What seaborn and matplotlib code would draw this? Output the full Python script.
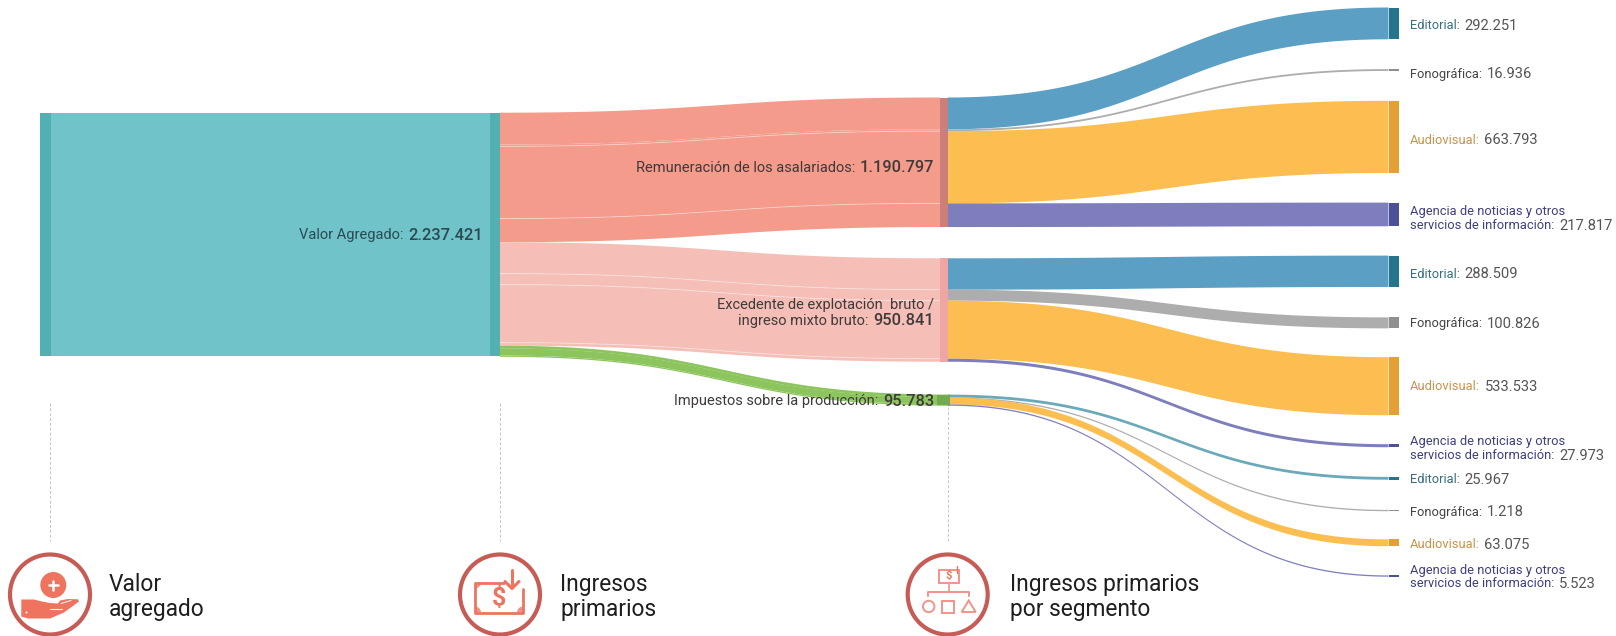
"""Sankey: valor agregado -> ingresos primarios -> ingresos primarios por segmento."""
import numpy as np
import matplotlib.pyplot as plt
import matplotlib.patches as mpatches
import seaborn as sns

# ── datos ─────────────────────────────────────────────────────────────────────
valor_agregado = 2237421
segmentos = ["Editorial", "Fonográfica", "Audiovisual", "Agencia"]
remuneracion = [292251, 16936, 663793, 217817]
excedente = [288509, 100826, 533533, 27973]
impuestos = [25967, 1218, 63075, 5523]

# ── layout (px) ───────────────────────────────────────────────────────────────
SCALE = 243.4 / valor_agregado      # px por unidad
TOP0 = 112.7
X_NODE0 = (40, 50.5)
X_NODE1 = (489.5, 500)
X_NODE2 = (940, 947.7)
X_NODE3 = (1388.5, 1399)
TOP_PRIM = [97.5, 258.3, 394.6]
TOP_SEG = [[7.5, 69.1, 100.8, 202.6],
           [255.6, 317.4, 357.2, 444.2],
           [476.9, 509.9, 539.4, 575.4]]
LABEL_X = 1410
LABEL_Y = [[24, 72.7, 139, (210, 224)],
           [272.7, 322.5, 385.5, (440, 454)],
           [478.3, 510.7, 543.3, (569, 582.3)]]

# ── colores ───────────────────────────────────────────────────────────────────
TEAL, TEAL_D = "#70C4C9", "#52B0B2"
PRIM_RIB = ["#F49B8C", "#F5BFB8", "#8CC55E"]
PRIM_NODE = ["#CC7E78", "#F0A5A5", "#72AB4F"]
SEG_RIB = ["#5B9FC5", "#ADADAD", "#FCBE50", "#7E7EBD"]
SEG_RIB_THIN = ["#6AA9B8", "#ADADAD", "#FCBE50", "#7E7EBD"]   # flujos de impuestos
SEG_NODE = ["#27758D", "#8F8F8F", "#E5A035", "#4C5096"]
SEG_TXT = ["#3A6D80", "#444444", "#C8924A", "#3E3F80"]
VAL_TXT = "#555555"
RING = "#C75B55"
ICON = "#EE7460"
ICON_L = "#F0948A"

sns.set_theme(style="white")
plt.rcParams["font.family"] = ["Roboto", "DejaVu Sans"]

fig, ax = plt.subplots(figsize=(16.16, 6.36), dpi=100)
fig.subplots_adjust(0, 0, 1, 1)
ax.set_xlim(0, 1616)
ax.set_ylim(636, 0)
ax.axis("off")
renderer = fig.canvas.get_renderer()


def fmt(v):
    return f"{v:,}".replace(",", ".")


def curve(x0, x1, y0, y1):
    u = np.linspace(0, 1, 120)
    xm = (x0 + x1) / 2
    x = (1-u)**3*x0 + 3*(1-u)**2*u*xm + 3*(1-u)*u**2*xm + u**3*x1
    y = (1-u)**3*y0 + 3*(1-u)**2*u*y0 + 3*(1-u)*u**2*y1 + u**3*y1
    return x, y


def ribbon(x0, x1, y0, y1, h, color, min_h=1.3):
    h = max(h, min_h)
    x, y = curve(x0, x1, y0, y1)
    ax.fill(np.r_[x, x[::-1]], np.r_[y, (y + h)[::-1]], color=color, lw=0)


def node(x, top, h, color):
    ax.bar(x[0], h, width=x[1]-x[0], bottom=top, align="edge", color=color, lw=0)


def rich(x, y, parts, align="left", gap=4.5):
    """texto en varios colores/tamaños sobre una sola línea"""
    ts = [ax.text(0, y, s, color=c, fontsize=size, va="center_baseline", ha="left",
                  fontweight=w) for s, c, w, size in parts]
    ws = [t.get_window_extent(renderer).width for t in ts]
    total = sum(ws) + gap * (len(ts) - 1)
    cur = x - total if align == "right" else x
    for t, w in zip(ts, ws):
        t.set_x(cur)
        cur += w + gap


# ── flujo principal ───────────────────────────────────────────────────────────
h0 = valor_agregado * SCALE
ax.bar(X_NODE0[1], h0, width=X_NODE1[0]-X_NODE0[1], bottom=TOP0, align="edge", color=TEAL, lw=0)
node(X_NODE0, TOP0, h0, TEAL_D)
node(X_NODE1, TOP0, h0, TEAL_D)

# ── ribbons por grupo ─────────────────────────────────────────────────────────
src = TOP0
for g, vals in enumerate([remuneracion, excedente, impuestos]):
    y_src, y_prim = src, TOP_PRIM[g]
    for s, v in enumerate(vals):
        h = v * SCALE
        # primer tramo: mismo color para todo el grupo
        ribbon(X_NODE1[1], X_NODE2[0] + (10 if g == 2 else 0), y_src, y_prim, h, PRIM_RIB[g])
        # hairlines entre sub-flujos (no junto a un flujo muy fino)
        if g < 2 and s < 3 and vals[s + 1] * SCALE > 3:
            hx, hy = curve(X_NODE1[1], X_NODE2[0], y_src + h, y_prim + h)
            sns.lineplot(x=hx, y=hy, ax=ax, color="white", lw=0.7, alpha=0.35,
                         estimator=None, sort=False, legend=False)
        # segundo tramo
        ribbon(X_NODE2[1], X_NODE3[0], y_prim, TOP_SEG[g][s], h,
               SEG_RIB_THIN[s] if g == 2 else SEG_RIB[s])
        node(X_NODE3, TOP_SEG[g][s], max(h, 1.3), SEG_NODE[s])
        y_src += h
        y_prim += h
    h_prim = sum(vals) * SCALE
    if g == 2:
        node((937, 950), TOP_PRIM[g], h_prim, PRIM_NODE[g])
    else:
        node(X_NODE2, TOP_PRIM[g], h_prim, PRIM_NODE[g])
    src += h_prim

# ── guías punteadas ───────────────────────────────────────────────────────────
for gx, y0 in zip([49.5, 500, 947.7], [403, 403, 407]):
    sns.lineplot(x=[gx, gx], y=[y0, 541], ax=ax, color="#C4C4C4", lw=0.7,
                 linestyle=(0, (3, 2)), estimator=None, sort=False, legend=False)

# ── etiquetas ─────────────────────────────────────────────────────────────────
DK, DK2 = "#2A4A50", "#3F3A3A"
SZ_L, SZ_V = 10.5, 11.8
rich(483, 234, [("Valor Agregado:", DK, "normal", SZ_L), (fmt(valor_agregado), DK, "medium", SZ_V)], "right")
rich(934, 166, [("Remuneración de los asalariados:", DK2, "normal", SZ_L),
                (fmt(sum(remuneracion)), DK2, "medium", SZ_V)], "right")
rich(934, 303, [("Excedente de explotación  bruto /", DK2, "normal", SZ_L)], "right")
rich(934, 319, [("ingreso mixto bruto:", DK2, "normal", SZ_L), (fmt(sum(excedente)), DK2, "medium", SZ_V)], "right")
rich(934, 400, [("Impuestos sobre la producción:", DK2, "normal", SZ_L),
                (fmt(sum(impuestos)), DK2, "medium", SZ_V)], "right")

SZ_SEG, SZ_SEGV = 9.3, 10.6
for g, vals in enumerate([remuneracion, excedente, impuestos]):
    for s, v in enumerate(vals):
        c = SEG_TXT[s]
        if s == 3:
            y1, y2 = LABEL_Y[g][s]
            rich(LABEL_X, y1, [("Agencia de noticias y otros", c, "normal", SZ_SEG)])
            rich(LABEL_X, y2, [("servicios de información:", c, "normal", SZ_SEG),
                               (fmt(v), VAL_TXT, "normal", SZ_SEGV)])
        else:
            rich(LABEL_X, LABEL_Y[g][s], [(segmentos[s] + ":", c, "normal", SZ_SEG),
                                          (fmt(v), VAL_TXT, "normal", SZ_SEGV)])

# ── encabezados inferiores con iconos ─────────────────────────────────────────
titulos = [("Valor", "agregado"), ("Ingresos", "primarios"), ("Ingresos primarios", "por segmento")]
cx_ring = [50, 500, 947.7]
tx = [109, 560, 1010.5]
for cx, x, (l1, l2) in zip(cx_ring, tx, titulos):
    ax.add_patch(mpatches.Circle((cx, 594.5), 40, fc="white", ec=RING, lw=3.0, clip_on=False))
    ax.text(x, 584.5, l1, fontsize=16.4, color="#1E1E1E", va="center", ha="left")
    ax.text(x, 609.5, l2, fontsize=16.4, color="#1E1E1E", va="center", ha="left")

# icono 1: mano con moneda
cx, cy = cx_ring[0], 594.5
ax.add_patch(mpatches.Circle((cx+3.3, cy-9.5), 13, fc=ICON, lw=0))
ax.plot([cx-1.2, cx+7.8], [cy-9.5, cy-9.5], color="white", lw=1.8)
ax.plot([cx+3.3, cx+3.3], [cy-14, cy-5], color="white", lw=1.8)
hand = np.array([(-28.7, 5), (-16, 5), (-8, 7), (0, 8.5), (8, 9), (10, 6), (18, 4.5), (28, 4.8),
                 (29, 7), (14, 18), (0, 24), (-22, 24), (-28.7, 22)])
ax.add_patch(mpatches.Polygon(hand + [cx, cy], fc=ICON, lw=0))
ax.plot([cx, cx+12], [cy+14, cy+14], color="white", lw=0.8)
ax.plot([cx+11, cx+21], [cy+9, cy+6], color="white", lw=0.7)
ax.add_patch(mpatches.Circle((cx-23.5, cy+18), 1, fc="white", lw=0))

# icono 2: billete con flecha
cx = cx_ring[1]
ax.plot([cx+4, cx-25, cx-25, cx+23, cx+23], [cy-12, cy-12, cy+18, cy+18, cy-6], color=ICON, lw=2)
for (sx, sy), (t1, t2) in zip([(-25, -12), (-25, 18), (23, 18)], [(0, 90), (270, 360), (180, 270)]):
    ax.add_patch(mpatches.Wedge((cx+sx, cy+sy), 6, t1, t2, fc=ICON_L, lw=0))
ax.text(cx-1, cy+3, "$", fontsize=18, color=ICON, fontweight="bold", ha="center", va="center")
ax.plot([cx+12, cx+12], [cy-25, cy-8], color=ICON, lw=2.2)
ax.plot([cx+5, cx+12, cx+19], [cy-13, cy-6, cy-13], color=ICON, lw=2.2)

# icono 3: billete y jerarquía
cx = cx_ring[2]
ax.add_patch(mpatches.Rectangle((cx-9, cy-25), 20, 13, fc="white", ec=ICON_L, lw=1.4))
ax.text(cx+1, cy-18.5, "$", fontsize=8, color=ICON, fontweight="bold", ha="center", va="center")
ax.plot([cx+9, cx+9], [cy-29, cy-22], color=ICON, lw=1)
ax.plot([cx+1, cx+1], [cy-12, cy-3], color=ICON_L, lw=1.2)
ax.plot([cx-20, cx-20, cx+21, cx+21], [cy+1, cy-3, cy-3, cy+1], color=ICON_L, lw=1.4)
ax.add_patch(mpatches.Circle((cx-19, cy+12), 5.7, fc="white", ec=ICON_L, lw=1.4))
ax.add_patch(mpatches.Rectangle((cx-6, cy+6), 12, 12, fc="white", ec=ICON_L, lw=1.4))
ax.add_patch(mpatches.Polygon([(cx+14, cy+17.5), (cx+28, cy+17.5), (cx+21, cy+6)], fc="white", ec=ICON_L, lw=1.4))

ax.set_xlim(0, 1616)
ax.set_ylim(636, 0)
fig.savefig("out.png", dpi=100)
plt.close(fig)
